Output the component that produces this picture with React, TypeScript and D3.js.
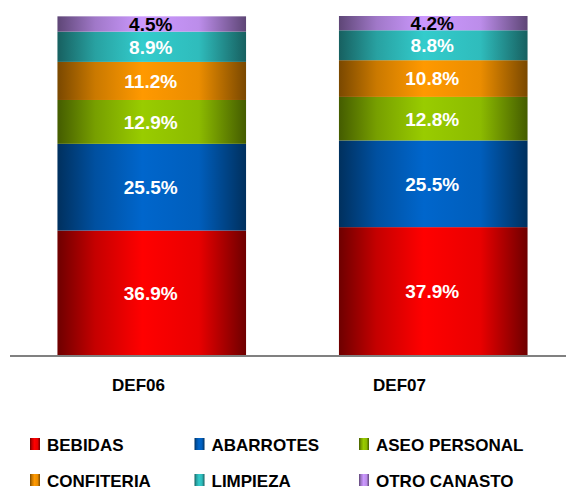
import React from 'react'
import * as d3 from 'd3'

const categories = ['DEF06', 'DEF07']
const seriesNames = ['BEBIDAS', 'ABARROTES', 'ASEO PERSONAL', 'CONFITERIA', 'LIMPIEZA', 'OTRO CANASTO']
const def06 = [36.9, 25.5, 12.9, 11.2, 8.9, 4.5]
const def07 = [37.9, 25.5, 12.8, 10.8, 8.8, 4.2]
const values = [def06, def07]

// bright center / dark edge for the cylinder look
const brights = ['#ff0000', '#0066cc', '#99cc00', '#ff9900', '#33cccc', '#cc99ff']
const darks = ['#6e0000', '#00305e', '#445c00', '#7a4800', '#176060', '#5e4676']
const labelColors = ['#fff', '#fff', '#fff', '#fff', '#fff', '#000']

const W = 566
const H = 489
const FONT = '"Liberation Sans", Arial, sans-serif'

export default function App() {
  const x = d3.scaleBand().domain(categories).range([11, 574]).paddingInner(0.33).paddingOuter(0.165)
  const xLabel = d3.scaleBand().domain(categories).range([8, 530])
  const y = d3.scaleLinear().domain([0, 100]).range([356, 16])

  const stacked = values.map((vals) => {
    let acc = 0
    return vals.map((v, i) => {
      const s = { i, y0: acc, y1: acc + v, v }
      acc += v
      return s
    })
  })

  const legendX = d3.scalePoint().domain(['0', '1', '2']).range([30, 359])
  const legendY = d3.scalePoint().domain(['0', '1']).range([438, 474])

  return (
    <svg width={W} height={H} style={{ position: 'absolute', left: 0, top: 0 }} fontFamily={FONT}>
      <defs>
        {brights.map((c, i) => (
          <linearGradient key={i} id={`g${i}`} x1="0" x2="1" y1="0" y2="0">
            <stop offset="0" stopColor={darks[i]} />
            <stop offset="0.2" stopColor={d3.interpolateRgb(darks[i], c)(0.6)} />
            <stop offset="0.45" stopColor={c} />
            <stop offset="0.75" stopColor={d3.interpolateRgb(darks[i], c)(0.85)} />
            <stop offset="1" stopColor={darks[i]} />
          </linearGradient>
        ))}
      </defs>
      {categories.map((cat, ci) => (
        <g key={cat}>
          {stacked[ci].map((s) => (
            <rect
              key={s.i}
              x={x(cat)}
              width={x.bandwidth()}
              y={y(s.y1)}
              height={y(s.y0) - y(s.y1)}
              fill={`url(#g${s.i})`}
            />
          ))}
          {stacked[ci].map((s) => (
            <text
              key={'t' + s.i}
              x={x(cat)! + x.bandwidth() / 2 - 1}
              y={(y(s.y0) + y(s.y1)) / 2}
              dy="0.36em"
              textAnchor="middle"
              fontSize={19}
              fontWeight="bold"
              fill={labelColors[s.i]}
            >
              {s.v.toFixed(1)}%
            </text>
          ))}
          <text
            x={xLabel(cat)! + xLabel.bandwidth() / 2}
            y={391}
            textAnchor="middle"
            fontSize={17}
            fontWeight="bold"
            fill="#000"
          >
            {cat}
          </text>
        </g>
      ))}
      <line x1={10} x2={W} y1={356} y2={356} stroke="#808080" strokeWidth={2} />
      {seriesNames.map((name, i) => {
        const lx = legendX(String(i % 3))!
        const ly = legendY(String(Math.floor(i / 3)))!
        return (
          <g key={name}>
            <rect x={lx} y={ly} width={10} height={12} fill={`url(#g${i})`} />
            <text x={lx + 17} y={ly + 12.5} fontSize={17} fontWeight="bold" fill="#000">
              {name}
            </text>
          </g>
        )
      })}
    </svg>
  )
}
